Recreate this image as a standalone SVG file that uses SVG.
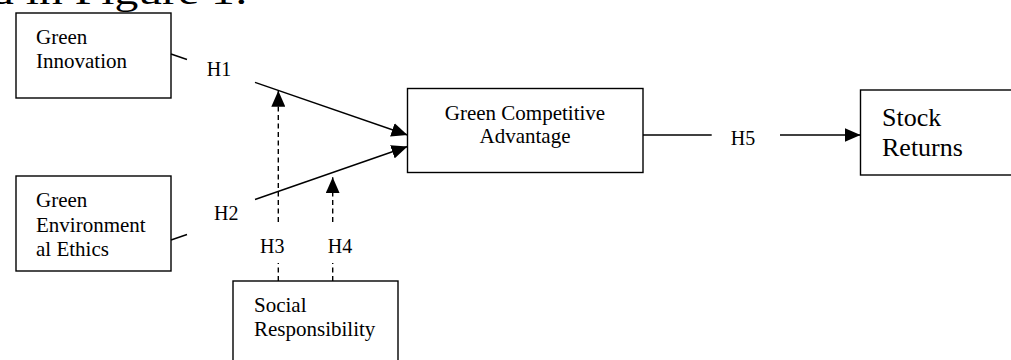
<svg xmlns="http://www.w3.org/2000/svg" width="1011" height="360" viewBox="0 0 1011 360">
<style>
text{font-family:"Liberation Serif","Times New Roman",serif;fill:#000}
.n{font-size:21px}
.h{font-size:20px}
.big{font-size:26px}
rect{fill:#fff;stroke:#000;stroke-width:1.4}
.c line{stroke:#000;stroke-width:1.4}
.d{stroke-dasharray:5 3.5}
</style>
<defs>
<marker id="ah" markerUnits="userSpaceOnUse" markerWidth="16" markerHeight="14" viewBox="0 0 16 14" refX="16" refY="7" orient="auto">
<path d="M0,0 L16,7 L0,14 Z" fill="#000"/>
</marker>
</defs>
<text x="-10" y="4" style="font-size:36px" textLength="258" lengthAdjust="spacingAndGlyphs">d in Figure 1:</text>
<g id="green-innovation">
<rect x="16" y="13" width="155" height="85"/>
<text class="n" x="36" y="44">Green</text>
<text class="n" x="36" y="68">Innovation</text>
</g>
<g id="green-ethics">
<rect x="16" y="176" width="155" height="95"/>
<text class="n" x="36" y="207">Green</text>
<text class="n" x="36" y="231.5">Environment</text>
<text class="n" x="36" y="256">al Ethics</text>
</g>
<g id="social-responsibility">
<rect x="233" y="281" width="165" height="100"/>
<text class="n" x="254" y="312">Social</text>
<text class="n" x="254" y="336">Responsibility</text>
</g>
<g id="green-competitive-advantage">
<rect x="407.5" y="88.5" width="235.5" height="84"/>
<text class="n" x="525" y="119.5" text-anchor="middle">Green Competitive</text>
<text class="n" x="525" y="143" text-anchor="middle">Advantage</text>
</g>
<g id="stock-returns">
<rect x="860.5" y="90" width="152" height="85"/>
<text class="big" x="882" y="126">Stock</text>
<text class="big" x="882" y="156">Returns</text>
</g>
<g id="connectors" class="c">
<line x1="171" y1="54" x2="187" y2="59.5"/>
<line x1="255" y1="82.3" x2="407.5" y2="135" marker-end="url(#ah)"/>
<line x1="171" y1="240" x2="187" y2="234.5"/>
<line x1="255" y1="199.5" x2="407.5" y2="146.5" marker-end="url(#ah)"/>
<line class="d" x1="278.3" y1="281" x2="278.3" y2="263"/>
<line class="d" x1="278.3" y1="222" x2="278.3" y2="90.7" marker-end="url(#ah)"/>
<line class="d" x1="332.7" y1="281" x2="332.7" y2="263"/>
<line class="d" x1="332.7" y1="222" x2="332.7" y2="177.3" marker-end="url(#ah)"/>
<line x1="643" y1="135" x2="711.7" y2="135"/>
<line x1="780" y1="135" x2="860.5" y2="135" marker-end="url(#ah)"/>
<text class="h" x="206.7" y="76">H1</text>
<text class="h" x="214" y="219.5">H2</text>
<text class="h" x="260" y="252.7">H3</text>
<text class="h" x="327.7" y="252.7">H4</text>
<text class="h" x="730.7" y="145">H5</text>
</g>
</svg>
